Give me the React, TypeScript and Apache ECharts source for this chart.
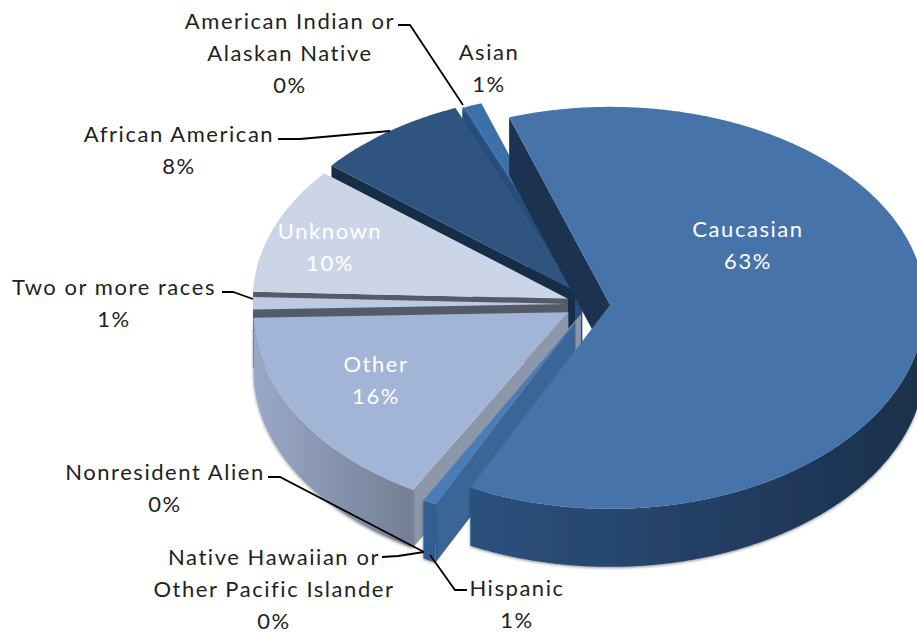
import React, { useEffect, useRef } from "react";
import * as echarts from "echarts";

const NAMES = ["Caucasian", "Hispanic", "Native Hawaiian or\nOther Pacific Islander", "Nonresident Alien", "Other", "Two or more races", "Unknown", "African American", "American Indian or\nAlaskan Native", "Asian"];
const VALUES = [62.7, 0.7, 0.1, 0.1, 16.4, 1.0, 10.4, 7.9, 0.1, 0.9];

const START_ANGLE = -18.7;
const BASE_X = 590, BASE_Y = 304, RX = 315, RY_BACK = 198, RY_FRONT = 204, DEPTH = 58;
const EXPLODE = [0.064, 0.1, 0.06, 0.06, 0.08, 0.07, 0.075, 0.08, 0.07, 0.07];
const DRAW_RANK = [9, 8, 5, 6, 7, 4, 3, 2, 1, 0];
const TOP_COLORS = ["#4674aa", "#4a7cb8", "#8b95a8", "#8b95a8", "#a3b5d7", "#bccae3", "#ccd5e8", "#305480", "#2f5f96", "#3c70a8"];
const FACE_COLORS = ["#1b3350", "#3a6596", "#8b95a8", "#8b95a8", "#8d97aa", "#555a68", "#555a68", "#172d47", "#264d7c", "#2c5688"];
const RIM_FROM = ["#2c517e", "#336092", "#8b95a8", "#8b95a8", "#9aa9c9", "#555a68", "#555a68", "#172d47", "#264d7c", "#2c5688"];
const RIM_TO = ["#1b2f4b", "#2f5b8c", "#8b95a8", "#8b95a8", "#747e94", "#555a68", "#555a68", "#172d47", "#264d7c", "#2c5688"];

const LABEL_FONT = "Lato";
const LABEL_SIZE = 22;
const LABEL_SPACING = "1.55px";
const LINE_H = 31.6;
const LABELS = [
  { i: 0, x: 748, y: 213, fill: "#ffffff" },
  { i: 1, x: 517, y: 572, fill: "#222222" },
  { i: 2, x: 274, y: 541, fill: "#222222" },
  { i: 3, x: 165, y: 456, fill: "#222222" },
  { i: 4, x: 376, y: 348, fill: "#ffffff" },
  { i: 5, x: 114, y: 271, fill: "#222222" },
  { i: 6, x: 330, y: 215, fill: "#ffffff" },
  { i: 7, x: 179, y: 118, fill: "#222222" },
  { i: 8, x: 290, y: 5, fill: "#222222" },
  { i: 9, x: 489, y: 36, fill: "#222222" },
];
const LEADERS = [
  [[398, 25], [410, 25], [463, 105]],
  [[278, 139], [300, 139], [390, 131]],
  [[222, 292], [233, 292], [253, 299]],
  [[268, 477], [280, 477], [424, 552]],
  [[382, 557], [398, 556], [424, 552]],
  [[430, 555], [455, 590], [467, 590]],
];

const rad = (d: number) => (d * Math.PI) / 180;
const total = VALUES.reduce((a, b) => a + b, 0);
const spans = VALUES.map((v) => (v / total) * 360);
const starts = spans.map((_, i) => START_ANGLE + spans.slice(0, i).reduce((a, b) => a + b, 0));

function rimPoint(cx: number, cy: number, deg: number, dy = 0) {
  const c = Math.cos(rad(deg));
  return [cx + RX * Math.sin(rad(deg)), cy - (c > 0 ? RY_BACK : RY_FRONT) * c + dy];
}
function arc(cx: number, cy: number, a0: number, a1: number, dy = 0) {
  const n = Math.max(2, Math.ceil(Math.abs(a1 - a0) * 3));
  const pts: number[][] = [];
  for (let k = 0; k <= n; k++) pts.push(rimPoint(cx, cy, a0 + ((a1 - a0) * k) / n, dy));
  return pts;
}

function renderItem(params: any, api: any) {
  const i = params.dataIndex;
  const span = (api.value(0) / total) * 360;
  const a0 = starts[i];
  const a1 = a0 + span;
  const mid = (a0 + a1) / 2;
  const cx = BASE_X + EXPLODE[i] * RX * Math.sin(rad(mid));
  const cy = BASE_Y - EXPLODE[i] * 200 * Math.cos(rad(mid));
  const base = DRAW_RANK[i] * 10;
  const children: any[] = [];
  const face = (deg: number) => {
    const p = rimPoint(cx, cy, deg);
    children.push({
      type: "polygon",
      z2: base + 1,
      shape: { points: [[cx, cy], p, [p[0], p[1] + DEPTH], [cx, cy + DEPTH]] },
      style: { fill: FACE_COLORS[i] },
    });
  };
  if (Math.sin(rad(a0)) < 0) face(a0);
  if (Math.sin(rad(a1)) > 0) face(a1);
  const r0 = Math.max(a0, 90);
  const r1 = Math.min(a1, 270);
  if (r1 > r0) {
    const top = arc(cx, cy, r0, r1);
    const bottom = arc(cx, cy, r1, r0, DEPTH);
    children.push({
      type: "polygon",
      z2: base + 2,
      shape: { points: top.concat(bottom) },
      style: {
        fill: new echarts.graphic.LinearGradient(0, 0, 1, 0, [
          { offset: 0, color: RIM_FROM[i] },
          { offset: 1, color: RIM_TO[i] },
        ]),
        shadowBlur: 3,
        shadowColor: "rgba(0,0,0,0.45)",
        shadowOffsetY: 1,
      },
    });
  }
  children.push({
    type: "polygon",
    z2: base + 3,
    shape: { points: [[cx, cy]].concat(arc(cx, cy, a0, a1)) },
    style: { fill: TOP_COLORS[i] },
  });
  return { type: "group", children };
}

function App() {
  const ref = useRef<HTMLDivElement>(null);
  useEffect(() => {
    document.body.style.margin = "0";
    const chart = echarts.init(ref.current!, null, { renderer: "svg" });
    chart.setOption({
      animation: false,
      backgroundColor: "#ffffff",
      series: [
        {
          type: "custom",
          coordinateSystem: "none",
          silent: true,
          clip: false,
          renderItem,
          data: VALUES.map((v, i) => ({ name: NAMES[i], value: [v] })),
        },
      ],
      graphic: [
        ...LEADERS.map((pts) => ({
          type: "polyline",
          z: 20,
          shape: { points: pts },
          style: { stroke: "#000000", lineWidth: 1.8, fill: "none" },
        })),
        ...LABELS.map((l) => ({
          type: "text",
          z: 21,
          x: l.x,
          y: l.y,
          style: {
            text: `${NAMES[l.i]}\n${Math.round(VALUES[l.i])}%`,
            fill: l.fill,
            font: `${LABEL_SIZE}px ${LABEL_FONT}`,
            lineHeight: LINE_H,
            align: "center",
          },
        })),
      ],
    });
    return () => chart.dispose();
  }, []);
  return <div ref={ref} style={{ width: 917, height: 632, letterSpacing: LABEL_SPACING }} />;
}

export default App;
